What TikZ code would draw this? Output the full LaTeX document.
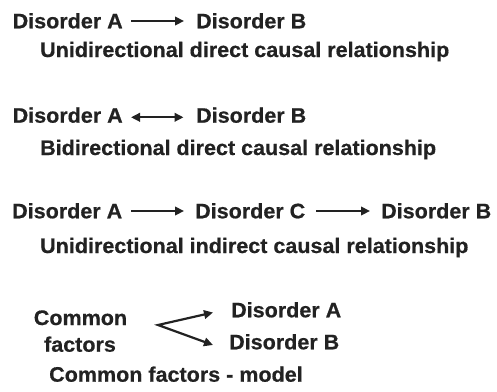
\documentclass[tikz,border=0pt]{standalone}
\usepackage{fontspec}
\newfontfamily\lblfont[FakeStretch=1.025,FakeBold=0.6]{Liberation Sans Bold}
\usetikzlibrary{arrows.meta}
\definecolor{ink}{HTML}{222222}
\begin{document}
\begin{tikzpicture}[x=1pt,y=-1pt,
  lbl/.style={font=\lblfont\fontsize{21}{25}\selectfont, inner sep=0pt, anchor=base west, text=ink},
  arr/.style={line width=2.2pt, draw=ink, -{Triangle[length=9pt,width=8.5pt]}},
  barr/.style={line width=2.2pt, draw=ink, {Triangle[length=9pt,width=8.5pt]}-{Triangle[length=9pt,width=8.5pt]}}]
\useasboundingbox (0,0) rectangle (497,391);
% row 1
\node[lbl] (a1) at (12.5,28.3) {Disorder A};
\node[lbl] (b1) at (196,28.3) {Disorder B};
\node[lbl] (t1) at (40,57) {Unidirectional direct causal relationship};
\draw[arr] (131,21) coordinate (s1) -- (184,21) coordinate (e1);
% row 2
\node[lbl] (a2) at (12.5,122.7) {Disorder A};
\node[lbl] (b2) at (196,122.7) {Disorder B};
\node[lbl] (t2) at (40,155) {Bidirectional direct causal relationship};
\draw[barr] (131,117.3) coordinate (s2) -- (183.5,117.3) coordinate (e2);
% row 3
\node[lbl] (a3) at (12,218.3) {Disorder A};
\node[lbl] (c3) at (195,218.3) {Disorder C};
\node[lbl] (b3) at (381,218.3) {Disorder B};
\node[lbl] (t3) at (40,253) {Unidirectional indirect causal relationship};
\draw[arr] (131,211) coordinate (s3) -- (184,211) coordinate (e3);
\draw[arr] (316,211) coordinate (s4) -- (370,211) coordinate (e4);
% row 4
\node[lbl, anchor=base] (cm) at (80.5,325) {Common};
\node[lbl, anchor=base] (fc) at (80,351.7) {factors};
\node[lbl] (a4) at (231,317.3) {Disorder A};
\node[lbl] (b4) at (229,349.3) {Disorder B};
\node[lbl] (t4) at (49,381.7) {Common factors - model};
\coordinate (apex) at (158,325);
\draw[barr, line join=miter] (213,312.5) coordinate (ua) -- (apex) -- (213,345) coordinate (lb);
\end{tikzpicture}
\end{document}
